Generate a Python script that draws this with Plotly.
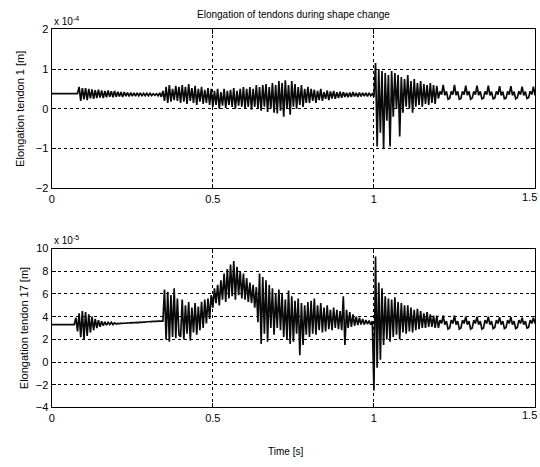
import numpy as np
import plotly.graph_objects as go

# sample times (s), 0.005 s step
time_s = np.round(np.arange(301) * 0.005, 3)

# Elongation tendon 1, in units of 1e-4 m
tendon1 = [
    0.38,0.38,0.38,0.38,0.38,0.38,0.38,0.38,0.38,0.38,0.38,0.38,0.38,0.38,0.38,0.38,0.38,0.55,0.2,0.52,
    0.24,0.52,0.22,0.5,0.26,0.49,0.25,0.47,0.27,0.48,0.28,0.46,0.27,0.45,0.29,0.46,0.3,0.44,0.29,0.45,
    0.3,0.43,0.31,0.42,0.3,0.42,0.32,0.41,0.31,0.41,0.32,0.4,0.32,0.4,0.33,0.4,0.32,0.39,0.33,0.39,
    0.33,0.39,0.33,0.38,0.34,0.38,0.33,0.4,0.3,0.45,0.2,0.55,0.15,0.6,0.18,0.5,0.22,0.58,0.2,0.55,
    0.15,0.6,0.18,0.55,0.12,0.62,0.2,0.52,0.15,0.58,0.1,0.5,0.18,0.55,0.12,0.48,0.15,0.52,0.1,0.5,
    0.05,0.45,0.1,0.5,0.0,0.42,0.08,0.5,0.02,0.45,0.1,0.48,0.05,0.52,0.0,0.45,0.08,0.5,0.05,0.55,
    0.0,0.5,0.05,0.55,-0.02,0.5,0.05,0.6,0.0,0.55,-0.05,0.6,0.05,0.62,-0.08,0.55,0.0,0.65,-0.1,0.6,
    -0.12,0.7,-0.05,0.65,-0.2,0.72,0.0,0.6,-0.15,0.7,0.05,0.62,0.0,0.55,0.1,0.6,0.05,0.5,0.15,0.55,
    0.15,0.5,0.2,0.48,0.15,0.45,0.22,0.5,0.2,0.42,0.25,0.46,0.22,0.44,0.26,0.45,0.25,0.42,0.27,0.43,
    0.28,0.42,0.3,0.4,0.29,0.41,0.3,0.42,0.31,0.4,0.3,0.41,0.31,0.4,0.32,0.4,0.31,0.4,0.33,0.38,
    0.3,1.15,-0.95,1.0,-0.6,0.95,-1.0,0.9,-0.3,0.85,-0.95,0.95,-0.2,0.9,0.0,0.85,-0.7,0.8,-0.1,0.75,
    0.05,0.85,0.0,0.7,-0.1,0.75,0.05,0.65,0.1,0.7,0.05,0.62,0.12,0.6,0.1,0.65,0.15,0.6,0.12,0.58,
    0.26,0.44,0.36,0.6,0.34,0.44,0.24,0.26,0.44,0.36,0.6,0.34,0.44,0.24,0.26,0.44,0.36,0.58,0.34,0.44,
    0.24,0.27,0.44,0.36,0.58,0.34,0.44,0.25,0.27,0.44,0.36,0.58,0.34,0.43,0.25,0.27,0.44,0.36,0.57,0.34,
    0.43,0.25,0.27,0.44,0.36,0.57,0.34,0.43,0.25,0.28,0.44,0.36,0.56,0.34,0.43,0.26,0.28,0.44,0.36,0.56,
    0.34,
]

# Elongation tendon 17, in units of 1e-5 m
tendon17 = [
    3.3,3.3,3.3,3.3,3.3,3.3,3.3,3.3,3.3,3.3,3.3,3.3,3.3,3.3,3.3,3.9,2.7,4.3,2.2,4.5,
    2.0,4.4,2.3,4.2,2.6,4.0,2.8,3.8,3.0,3.7,3.1,3.6,3.2,3.55,3.25,3.5,3.3,3.5,3.3,3.45,
    3.35,3.4,3.38,3.42,3.4,3.44,3.42,3.45,3.44,3.47,3.45,3.48,3.47,3.5,3.48,3.52,3.5,3.53,3.52,3.55,
    3.55,3.56,3.57,3.58,3.58,3.59,3.6,3.6,3.6,3.6,6.4,2.0,6.2,1.8,5.9,2.2,6.5,2.1,5.6,2.4,
    2.2,5.5,2.0,5.0,2.5,5.3,1.9,4.8,2.6,5.2,2.4,4.9,2.8,5.3,3.0,5.5,3.4,5.6,3.8,5.9,
    4.8,6.5,5.2,6.8,5.0,7.2,5.5,7.8,5.3,8.2,5.6,8.6,5.8,8.9,5.5,8.4,5.9,8.0,5.6,7.8,
    5.5,7.4,5.3,7.0,5.2,6.8,4.8,6.6,3.5,7.8,1.6,7.5,2.5,7.2,1.8,6.8,3.0,6.5,2.4,6.0,
    3.0,6.4,2.8,6.0,2.2,5.5,2.0,6.3,1.6,5.8,1.8,5.4,2.5,5.6,0.6,5.2,1.5,5.0,2.4,5.3,
    2.2,5.4,2.5,5.6,2.4,5.0,2.8,5.2,2.6,4.8,2.7,5.0,2.9,4.6,2.8,4.8,3.0,4.6,2.9,4.5,
    2.8,5.8,1.5,4.6,3.0,4.4,3.1,4.2,3.2,4.0,3.25,3.9,3.3,3.8,3.3,3.7,3.35,3.65,3.3,3.6,
    -2.5,9.3,-0.5,7.0,0.2,6.5,1.5,5.8,2.0,5.6,1.8,5.5,2.2,5.7,2.4,5.3,2.0,5.2,2.6,5.0,
    2.5,5.0,2.7,4.8,2.6,4.6,2.8,4.7,2.9,4.5,3.0,4.3,3.0,4.4,3.1,4.2,3.1,4.1,3.0,4.1,
    3.0,3.7,3.4,4.1,3.3,3.6,2.9,3.0,3.7,3.4,4.1,3.3,3.6,2.9,3.0,3.7,3.4,4.0,3.3,3.6,
    2.9,3.0,3.7,3.4,4.0,3.3,3.6,2.9,3.0,3.7,3.4,4.0,3.3,3.6,2.95,3.05,3.7,3.4,3.95,3.3,
    3.6,2.95,3.05,3.7,3.4,3.95,3.3,3.6,2.95,3.05,3.7,3.4,3.9,3.3,3.6,3.0,3.05,3.7,3.4,3.9,
    3.4,
]

x_ticks = [0, 0.5, 1]
x_ticklabels = ["0", "0.5", "1"]
last_x_label = "1.5"
y1_ticks = [-2, -1, 0, 1, 2]
y2_ticks = [-4, -2, 0, 2, 4, 6, 8, 10]

title_text = "Elongation of tendons during shape change"
ylabel1 = "Elongation tendon 1 [m]"
ylabel2 = "Elongation tendon 17 [m]"
xlabel = "Time [s]"

FONT = "Liberation Sans, Arial, sans-serif"
W, H = 540, 467

def px_x(p):
    return p / W

def px_y(p):
    return 1 - p / H

fig = go.Figure()
fig.add_trace(go.Scatter(x=time_s, y=tendon1, mode="lines",
                         line=dict(color="#0a0a0a", width=1.7, simplify=False),
                         xaxis="x", yaxis="y", showlegend=False))
fig.add_trace(go.Scatter(x=time_s, y=tendon17, mode="lines",
                         line=dict(color="#0a0a0a", width=1.7, simplify=False),
                         xaxis="x2", yaxis="y2", showlegend=False))

common_x = dict(range=[0, 1.5], tickvals=x_ticks, ticktext=x_ticklabels,
                showline=True, mirror="ticks", linecolor="black", linewidth=1.3,
                ticks="inside", ticklen=4, tickcolor="black",
                showgrid=True, gridcolor="black", griddash="dot", gridwidth=1,
                zeroline=False, tickfont=dict(family=FONT, size=11, color="black"),
                domain=[px_x(49), px_x(535)])
common_y = dict(showline=True, mirror="ticks", linecolor="black", linewidth=1.3,
                ticks="inside", ticklen=4, tickcolor="black",
                showgrid=True, gridcolor="black", griddash="dot", gridwidth=1,
                zeroline=False, tickfont=dict(family=FONT, size=11, color="black"))

ann_font = dict(family=FONT, size=10, color="black")
fig.update_layout(
    width=W, height=H,
    margin=dict(l=0, r=0, t=0, b=0),
    paper_bgcolor="white", plot_bgcolor="white",
    xaxis=dict(**common_x, anchor="y"),
    yaxis=dict(**common_y, range=[-2, 2], tickvals=y1_ticks,
               domain=[px_y(187), px_y(24)], anchor="x",
               title=dict(text=ylabel1, font=dict(family=FONT, size=11, color="black"), standoff=8)),
    xaxis2=dict(**common_x, anchor="y2"),
    yaxis2=dict(**common_y, range=[-4, 10], tickvals=y2_ticks,
                domain=[px_y(412), px_y(249)], anchor="x2",
                title=dict(text=ylabel2, font=dict(family=FONT, size=11, color="black"), standoff=4)),
    annotations=[
        dict(text=title_text, x=px_x(292), y=px_y(9), xref="paper", yref="paper",
             showarrow=False, font=ann_font, xanchor="center", yanchor="middle"),
        dict(text="x 10<sup>-4</sup>", x=px_x(49), y=px_y(15), xref="paper", yref="paper",
             showarrow=False, font=ann_font, xanchor="left", yanchor="middle"),
        dict(text="x 10<sup>-5</sup>", x=px_x(49), y=px_y(240), xref="paper", yref="paper",
             showarrow=False, font=ann_font, xanchor="left", yanchor="middle"),
        dict(text=last_x_label, x=px_x(539), y=px_y(196), xref="paper", yref="paper",
             showarrow=False, font=dict(family=FONT, size=11, color="black"),
             xanchor="right", yanchor="middle"),
        dict(text=last_x_label, x=px_x(539), y=px_y(420), xref="paper", yref="paper",
             showarrow=False, font=dict(family=FONT, size=11, color="black"),
             xanchor="right", yanchor="middle"),
        dict(text=xlabel, x=px_x(284), y=px_y(457), xref="paper", yref="paper",
             showarrow=False, font=ann_font, xanchor="center", yanchor="middle"),
    ],
)

fig.write_html("out.html")
